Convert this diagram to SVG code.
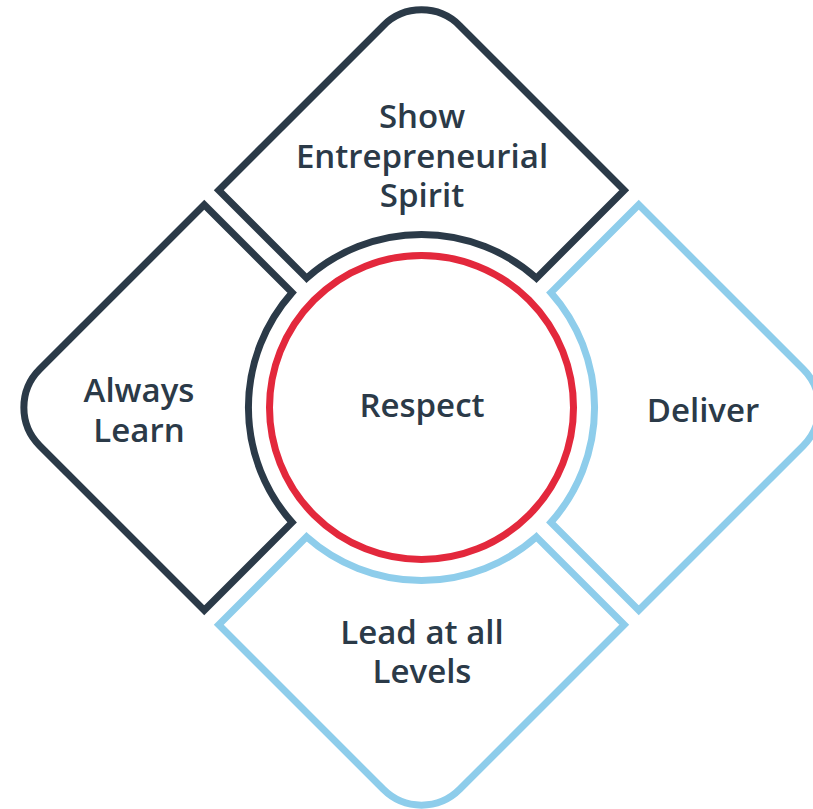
<svg xmlns="http://www.w3.org/2000/svg" width="813" height="809" viewBox="0 0 813 809">
<style>
.dark{fill:#ffffff;stroke:#2B3A48;stroke-width:7;stroke-linejoin:miter}
.light{fill:#ffffff;stroke:#8ECDEB;stroke-width:7;stroke-linejoin:miter}
.red{fill:#ffffff;stroke:#E3283C;stroke-width:7}
.lbl{font-family:"Open Sans","Noto Sans","Liberation Sans",sans-serif;font-weight:600;font-size:33px;fill:#2B3A48;text-anchor:middle}
</style>
<defs>
<path id="piece" d="M 306.6 278.1 L 218.75 190.25 L 383.3 25.7 A 54 54 0 0 1 459.7 25.7 L 624.25 190.25 L 536.4 278.1 A 173 173 0 0 0 306.6 278.1 Z"/>
</defs>
<rect width="813" height="809" fill="#ffffff"/>
<g id="node-show">
<use href="#piece" class="dark"/>
<text class="lbl" x="422" y="128">Show</text>
<text class="lbl" x="422" y="168">Entrepreneurial</text>
<text class="lbl" x="422" y="207">Spirit</text>
</g>
<g id="node-deliver">
<use href="#piece" class="light" transform="rotate(90 421.5 407.5)"/>
<text class="lbl" x="703" y="422">Deliver</text>
</g>
<g id="node-lead">
<use href="#piece" class="light" transform="rotate(180 421.5 407.5)"/>
<text class="lbl" x="422" y="644">Lead at all</text>
<text class="lbl" x="422" y="683">Levels</text>
</g>
<g id="node-learn">
<use href="#piece" class="dark" transform="rotate(270 421.5 407.5)"/>
<text class="lbl" x="139" y="402">Always</text>
<text class="lbl" x="139" y="442">Learn</text>
</g>
<g id="node-respect">
<circle class="red" cx="421.5" cy="407.5" r="152"/>
<text class="lbl" x="422" y="417">Respect</text>
</g>
<g id="connectors"></g>
</svg>
